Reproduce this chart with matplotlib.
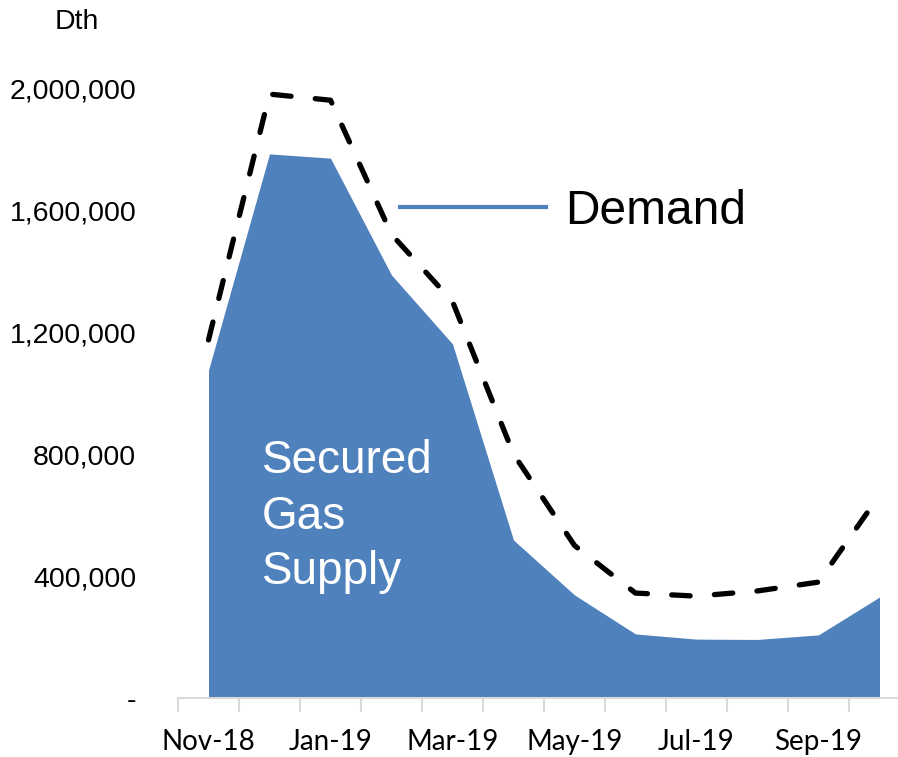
import matplotlib
matplotlib.use("Agg")
import matplotlib.pyplot as plt
from matplotlib.lines import Line2D
from matplotlib.ticker import FuncFormatter, FixedLocator

# Monthly values (Dth)
months = ['Nov-18', 'Dec-18', 'Jan-19', 'Feb-19', 'Mar-19', 'Apr-19',
          'May-19', 'Jun-19', 'Jul-19', 'Aug-19', 'Sep-19', 'Oct-19']
secured_supply = [1075000, 1784000, 1770000, 1387000, 1161000, 518000,
                  338000, 210000, 193000, 192000, 207000, 331000]
demand = [1174000, 1980000, 1960000, 1520000, 1300000, 800000,
          500000, 344000, 334000, 351000, 380000, 665000]
y_ticks = [0, 400000, 800000, 1200000, 1600000, 2000000]

blue = '#4f81bd'
grey = '#d9d9d9'

fig = plt.figure(figsize=(8.98, 7.57), dpi=100)
ax = fig.add_axes([178 / 898, 59 / 757, 732 / 898, 610 / 757])

x = list(range(len(months)))
ax.fill_between(x, secured_supply, 0, color=blue, linewidth=0)
ax.plot(x, demand, color='black', linewidth=3.8, linestyle=(0, (3.5, 4.6)),
        dash_capstyle='round', solid_capstyle='round')

ax.set_xlim(-0.5, 11.5)
ax.set_ylim(0, 2000000)

# y axis
ax.yaxis.set_major_locator(FixedLocator(y_ticks))
ax.yaxis.set_major_formatter(FuncFormatter(lambda v, p: '-' if v == 0 else f'{int(v):,}'))
ax.tick_params(axis='y', length=0, pad=30, labelsize=20.5)
for t in ax.get_yticklabels():
    t.set_fontfamily('Liberation Sans')

# x axis: labels every other month, ticks between every month
ax.xaxis.set_major_locator(FixedLocator(x[::2]))
ax.set_xticklabels(months[::2], fontfamily='Lato', fontsize=20)
ax.xaxis.set_minor_locator(FixedLocator([i - 0.5 for i in range(13)]))
ax.tick_params(axis='x', which='major', length=0, pad=22)
ax.tick_params(axis='x', which='minor', length=10, width=1.5, color=grey, direction='out')

for s in ['top', 'right', 'left']:
    ax.spines[s].set_visible(False)
ax.spines['bottom'].set_color(grey)
ax.spines['bottom'].set_linewidth(1.5)

fig.text(55 / 898, 1 - 22 / 757, 'Dth', fontsize=20.5, fontfamily='Liberation Sans',
         va='center', ha='left')

ax.text(0.88, 595000, 'Secured\nGas\nSupply', color='white', fontsize=33,
        fontfamily='Liberation Sans', va='center', ha='left', linespacing=1.35)

handle = Line2D([], [], color=blue, linewidth=3)
fig.legend([handle], ['Demand'], loc='center left',
           bbox_to_anchor=(400 / 898, 1 - 211 / 757), frameon=False,
           borderpad=0, borderaxespad=0, handlelength=3.05, handletextpad=0.4,
           prop={'family': 'Liberation Sans', 'size': 34.5})

fig.savefig('out.png', dpi=100)
